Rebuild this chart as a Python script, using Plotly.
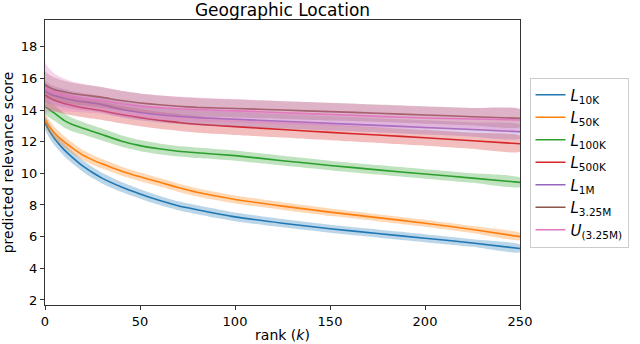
import plotly.graph_objects as go

# rank positions
K = [0, 2, 5, 10, 15, 20, 25, 30, 40, 50, 60, 70, 80, 100, 125, 150, 175, 200, 225, 250]

L10K = [13.2, 12.75, 12.2, 11.5, 10.95, 10.45, 10.05, 9.7, 9.15, 8.7, 8.3, 7.95, 7.7, 7.25, 6.85, 6.5, 6.2, 5.9, 5.6, 5.25]
L50K = [13.4, 13.0, 12.55, 12.0, 11.55, 11.15, 10.85, 10.6, 10.15, 9.78, 9.45, 9.1, 8.8, 8.35, 7.93, 7.55, 7.2, 6.85, 6.45, 6.0]
L100K = [14.2, 14.05, 13.8, 13.35, 13.05, 12.85, 12.65, 12.45, 12.05, 11.75, 11.55, 11.4, 11.3, 11.12, 10.8, 10.5, 10.22, 9.96, 9.7, 9.43]
L500K = [14.95, 14.8, 14.62, 14.42, 14.27, 14.15, 14.05, 13.95, 13.72, 13.52, 13.35, 13.22, 13.1, 12.95, 12.77, 12.59, 12.42, 12.25, 12.06, 11.87]
L1M = [15.2, 15.05, 14.9, 14.75, 14.62, 14.52, 14.45, 14.35, 14.05, 13.85, 13.7, 13.6, 13.52, 13.42, 13.29, 13.16, 13.03, 12.9, 12.77, 12.63]
L325M = [15.6, 15.45, 15.3, 15.15, 15.03, 14.95, 14.88, 14.8, 14.6, 14.45, 14.33, 14.24, 14.17, 14.1, 14.0, 13.9, 13.8, 13.69, 13.58, 13.48]
U325M = [15.4, 15.25, 15.1, 14.95, 14.83, 14.75, 14.68, 14.6, 14.4, 14.25, 14.15, 14.08, 14.03, 13.95, 13.83, 13.72, 13.6, 13.5, 13.43, 13.37]

# band half-widths (std)
S10K = [0.45, 0.45, 0.43, 0.4, 0.38, 0.36, 0.35, 0.34, 0.32, 0.3, 0.29, 0.28, 0.28, 0.27, 0.26, 0.25, 0.25, 0.25, 0.24, 0.24]
S50K = [0.4, 0.4, 0.38, 0.36, 0.34, 0.32, 0.31, 0.3, 0.29, 0.28, 0.27, 0.26, 0.26, 0.25, 0.24, 0.23, 0.22, 0.22, 0.22, 0.22]
S100K = [0.5, 0.5, 0.48, 0.45, 0.42, 0.4, 0.39, 0.38, 0.36, 0.35, 0.34, 0.33, 0.33, 0.32, 0.31, 0.3, 0.3, 0.3, 0.3, 0.3]
S500K = [0.75, 0.72, 0.7, 0.66, 0.63, 0.6, 0.59, 0.58, 0.56, 0.55, 0.54, 0.53, 0.53, 0.52, 0.51, 0.5, 0.5, 0.5, 0.5, 0.5]
S1M = [0.65, 0.62, 0.6, 0.58, 0.56, 0.54, 0.53, 0.52, 0.5, 0.5, 0.49, 0.48, 0.48, 0.47, 0.46, 0.46, 0.45, 0.45, 0.45, 0.45]
S325M = [0.85, 0.8, 0.75, 0.7, 0.68, 0.66, 0.65, 0.64, 0.62, 0.6, 0.59, 0.58, 0.58, 0.57, 0.56, 0.56, 0.55, 0.55, 0.55, 0.55]
SU = [1.6, 1.4, 1.2, 1.05, 0.95, 0.9, 0.87, 0.85, 0.82, 0.8, 0.79, 0.78, 0.77, 0.75, 0.74, 0.73, 0.72, 0.71, 0.7, 0.7]

NAMES = [
    "<i>L</i><sub>10K</sub>",
    "<i>L</i><sub>50K</sub>",
    "<i>L</i><sub>100K</sub>",
    "<i>L</i><sub>500K</sub>",
    "<i>L</i><sub>1M</sub>",
    "<i>L</i><sub>3.25M</sub>",
    "<i>U</i><sub>(3.25M)</sub>",
]
MEANS = [L10K, L50K, L100K, L500K, L1M, L325M, U325M]
STDS = [S10K, S50K, S100K, S500K, S1M, S325M, SU]
COLORS = ["#1f77b4", "#ff7f0e", "#2ca02c", "#d62728", "#9467bd", "#8c564b", "#e377c2"]


def rgba(hex_color, a):
    h = hex_color.lstrip("#")
    r, g, b = int(h[0:2], 16), int(h[2:4], 16), int(h[4:6], 16)
    return f"rgba({r},{g},{b},{a})"


fig = go.Figure()

for name, mean, std, col in zip(NAMES, MEANS, STDS, COLORS):
    upper = [m + s for m, s in zip(mean, std)]
    lower = [m - s for m, s in zip(mean, std)]
    fig.add_trace(go.Scatter(
        x=K + K[::-1],
        y=upper + lower[::-1],
        fill="toself",
        fillcolor=rgba(col, 0.3),
        line=dict(width=0, shape="spline", smoothing=0.5),
        mode="lines",
        hoverinfo="skip",
        showlegend=False,
    ))
    fig.add_trace(go.Scatter(
        x=K, y=mean, name=name, mode="lines",
        line=dict(color=col, width=1.6, shape="spline", smoothing=0.5),
    ))

axis_common = dict(
    showline=True, mirror=True, linecolor="#333", linewidth=1,
    ticks="outside", ticklen=4, tickcolor="#333",
    showgrid=False, zeroline=False, automargin=False,
    tickfont=dict(size=13, color="black"),
)

fig.update_layout(
    width=640, height=344,
    margin=dict(l=45, r=118, t=20, b=39),
    paper_bgcolor="white", plot_bgcolor="white",
    font=dict(family="DejaVu Sans", color="black"),
    title=dict(text="Geographic Location", x=0.5, xref="paper", y=0.97,
               yanchor="middle", font=dict(size=17)),
    xaxis=dict(range=[0, 250], tickvals=[0, 50, 100, 150, 200, 250],
               title=dict(text="rank (<i>k</i>)", font=dict(size=14), standoff=2),
               **axis_common),
    yaxis=dict(range=[1.68, 19.69], tickvals=[2, 4, 6, 8, 10, 12, 14, 16, 18],
               title=dict(text="predicted relevance score", font=dict(size=14), standoff=4),
               **axis_common),
    legend=dict(x=1.02, xanchor="left", y=0.5, yanchor="middle",
                bordercolor="#cccccc", borderwidth=1, font=dict(size=15),
                tracegroupgap=0, itemwidth=30),
)

# page body has a default 8px margin; remove it so the figure sits at 0,0
fig.write_html("out.html", config={"displayModeBar": False},
               post_script="document.body.style.margin='0';")
